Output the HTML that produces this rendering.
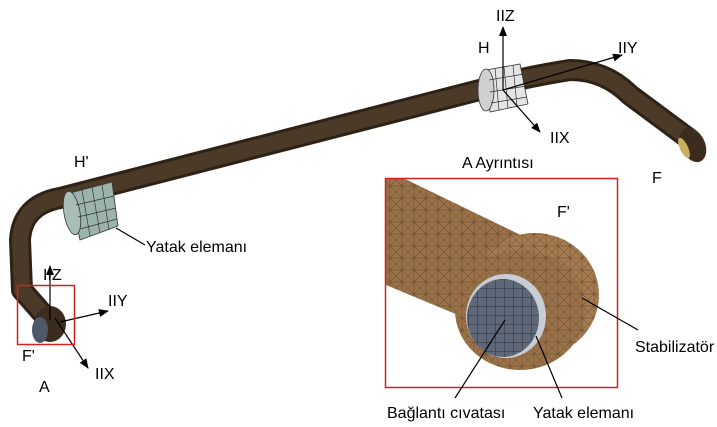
<!DOCTYPE html>
<html><head><style>
html,body{margin:0;padding:0;background:#fff;}
svg{display:block;}
text{font-family:"Liberation Sans",sans-serif;font-size:16px;fill:#000;}
</style></head><body>
<svg width="717" height="427" viewBox="0 0 717 427" xmlns="http://www.w3.org/2000/svg">
<defs>
<marker id="ar" markerWidth="10" markerHeight="8" refX="9" refY="4" orient="auto" markerUnits="userSpaceOnUse"><path d="M0,0 L10,4 L0,8 z" fill="#000"/></marker>
<pattern id="mesh" width="12" height="12" patternUnits="userSpaceOnUse"><rect width="12" height="12" fill="#a57c52"/><path d="M0,0 L12,12 M12,0 L0,12 M0,6 L12,6 M6,0 L6,12" stroke="#4a3018" stroke-width="0.5" opacity="0.7"/></pattern>
<pattern id="gmesh" width="9" height="9" patternUnits="userSpaceOnUse"><rect width="9" height="9" fill="#5e6878"/><path d="M0,0 L9,0 M0,0 L0,9" stroke="#20242c" stroke-width="0.8"/></pattern>
<clipPath id="cl"><rect x="386" y="179" width="231" height="208"/></clipPath>
</defs>
<g fill="none" stroke-linecap="round" stroke-linejoin="round">
<path d="M50,322 L22,290 L20,240 Q22,205 60,198 L495,86 Q520,78 570,70 Q605,70 630,95 L688,138" stroke="#2e2216" stroke-width="22"/>
<path d="M50,322 L22,290 L20,240 Q22,205 60,198 L495,86 Q520,78 570,70 Q605,70 630,95 L688,138" stroke="#4b3a28" stroke-width="16"/>
</g>
<ellipse cx="50" cy="324" rx="16" ry="18" fill="#3b2c1e"/>
<ellipse cx="40" cy="330" rx="8" ry="13" fill="#4f5866"/>
<ellipse cx="693" cy="145" rx="12" ry="18" fill="#3b2c1e" transform="rotate(-25 693 145)"/>
<ellipse cx="684" cy="148" rx="4" ry="11" fill="#c9b060" transform="rotate(-25 684 148)"/>
<g>
<path d="M70,193 L112,182 L118,226 L80,240 Z" fill="#9cb3ab" stroke="#333" stroke-width="0.8"/>
<ellipse cx="72" cy="213" rx="8" ry="22" fill="#a9bdb7" stroke="#333" stroke-width="0.8" transform="rotate(-10 72 213)"/>
<path d="M82,190 L90,236 M92,187 L100,233 M102,185 L109,230 M76,205 L114,196 M78,217 L116,208 M80,229 L117,219" stroke="#333" stroke-width="0.7"/>
</g>
<g>
<path d="M486,70 L520,64 L528,104 L490,112 Z" fill="#e4e4e4" stroke="#333" stroke-width="0.8"/>
<ellipse cx="486" cy="90" rx="8" ry="21" fill="#d0d0d0" stroke="#333" stroke-width="0.8"/>
<path d="M495,68 L499,110 M504,67 L508,108 M513,65 L517,106 M489,80 L524,74 M490,92 L526,86 M491,103 L527,97" stroke="#333" stroke-width="0.7"/>
</g>
<g stroke="#000" stroke-width="1.2">
<line x1="50" y1="320" x2="50" y2="266" marker-end="url(#ar)"/>
<line x1="60" y1="322" x2="108" y2="311" marker-end="url(#ar)"/>
<line x1="55" y1="318" x2="88" y2="368" marker-end="url(#ar)"/>
<line x1="503" y1="90" x2="503" y2="27" marker-end="url(#ar)"/>
<line x1="503" y1="90" x2="622" y2="55" marker-end="url(#ar)"/>
<line x1="503" y1="90" x2="540" y2="132" marker-end="url(#ar)"/>
<line x1="116" y1="228" x2="145" y2="245"/>
</g>
<rect x="17.5" y="285.5" width="57" height="59" fill="none" stroke="#d42020" stroke-width="1.5"/>
<text x="43" y="280">IIZ</text>
<text x="108" y="306">IIY</text>
<text x="95" y="379">IIX</text>
<text x="22" y="361">F'</text>
<text x="39" y="392">A</text>
<text x="74" y="167">H'</text>
<text x="146" y="252">Yatak elemanı</text>
<text x="496" y="21">IIZ</text>
<text x="478" y="53">H</text>
<text x="618" y="53">IIY</text>
<text x="550" y="143">IIX</text>
<text x="462" y="168">A Ayrıntısı</text>
<text x="652" y="183">F</text>
<g clip-path="url(#cl)">
<path d="M386,179 L405,179 L535,242 L470,320 L386,285 Z" fill="url(#mesh)"/>
<path d="M386,179 L405,179 L535,242 L470,320 L386,285 Z" fill="#6b4a2c" opacity="0.2"/>
<ellipse cx="535" cy="295" rx="64" ry="62" fill="url(#mesh)"/>
<ellipse cx="520" cy="310" rx="65" ry="60" fill="url(#mesh)"/>
<ellipse cx="520" cy="310" rx="65" ry="60" fill="#7a5533" opacity="0.25"/>
<ellipse cx="506" cy="316" rx="40" ry="42" fill="#c8ccd4"/>
<ellipse cx="503" cy="318" rx="36" ry="39" fill="url(#gmesh)"/>
</g>
<rect x="385.5" y="178.5" width="232" height="209" fill="none" stroke="#d42020" stroke-width="1.5"/>
<g stroke="#000" stroke-width="1.2">
<line x1="582" y1="298" x2="638" y2="330"/>
<line x1="505" y1="320" x2="455" y2="398"/>
<line x1="536" y1="336" x2="562" y2="398"/>
</g>
<text x="557" y="217">F'</text>
<text x="635" y="352">Stabilizatör</text>
<text x="387" y="418">Bağlantı cıvatası</text>
<text x="533" y="418">Yatak elemanı</text>
</svg>
</body></html>
